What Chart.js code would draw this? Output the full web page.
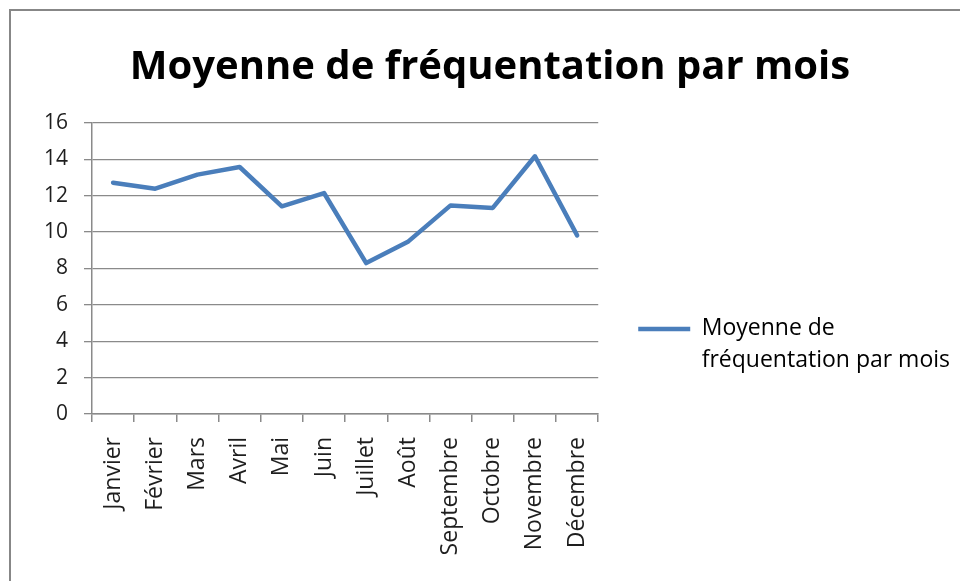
<!DOCTYPE html>
<html lang="fr">
<head>
<meta charset="utf-8">
<title>Moyenne de fréquentation par mois</title>
<script src="https://cdn.jsdelivr.net/npm/chart.js@4/dist/chart.umd.min.js"></script>
<style>
    html, body { margin: 0; padding: 0; background: #fff; }
    #frame {
        position: absolute;
        left: 9px;
        top: 9px;
        width: 1000px;
        height: 700px;
        border-top: 2px solid #878787;
        border-left: 2px solid #878787;
    }
    #wrap { position: absolute; left: 0; top: 0; width: 960px; height: 581px; }
</style>
</head>
<body>
<div id="frame"></div>
<div id="wrap"><canvas id="chart"></canvas></div>
<script>
// data
const months = ['Janvier', 'Février', 'Mars', 'Avril', 'Mai', 'Juin',
    'Juillet', 'Août', 'Septembre', 'Octobre', 'Novembre', 'Décembre'];
const frequentation = [12.72, 12.39, 13.16, 13.58, 11.42, 12.15, 8.30, 9.49, 11.47, 11.33, 14.17, 9.82];
const seriesName = 'Moyenne de fréquentation par mois';
const legendLines = ['Moyenne de', 'fréquentation par mois'];
const yTicks = [0, 2, 4, 6, 8, 10, 12, 14, 16];

const gridGray = '#8a8a8a';
const textColor = '#1e1e1e';
const uiFont = 'Open Sans';

// the legend sits a bit lower than the middle of the plot in the original
const legendNudge = {
    id: 'legendNudge',
    afterLayout(chart) {
        if (!chart.legend) return;
        chart.legend.top += 58;
        chart.legend.bottom += 58;
    }
};

new Chart(document.getElementById('chart'), {
    type: 'line',
    data: {
        labels: months,
        datasets: [{
            label: seriesName,
            data: frequentation,
            borderColor: '#4a7ebb',
            backgroundColor: '#4a7ebb',
            borderWidth: 4.5,
            tension: 0,
            pointRadius: 0,
            pointHoverRadius: 0,
            borderJoinStyle: 'round',
            borderCapStyle: 'round',
            fill: false
        }]
    },
    plugins: [legendNudge],
    options: {
        responsive: true,
        maintainAspectRatio: false,
        animation: false,
        layout: {
            padding: { left: 20, right: 0, top: 0, bottom: 0 }
        },
        plugins: {
            title: {
                display: true,
                text: seriesName,
                color: '#000',
                font: { family: uiFont, size: 40, weight: 'bold', lineHeight: 1.2 },
                padding: { top: 44, bottom: 31 }
            },
            legend: {
                display: true,
                position: 'right',
                align: 'center',
                maxWidth: 370,
                labels: {
                    usePointStyle: true,
                    pointStyle: 'line',
                    pointStyleWidth: 52,
                    padding: 40,
                    color: textColor,
                    font: { family: uiFont, size: 23, lineHeight: 1.35 },
                    generateLabels: (chart) => {
                        const ds = chart.data.datasets[0];
                        return [{
                            text: legendLines,
                            fillStyle: ds.borderColor,
                            strokeStyle: ds.borderColor,
                            lineWidth: ds.borderWidth,
                            pointStyle: 'line',
                            hidden: false,
                            datasetIndex: 0
                        }];
                    }
                }
            },
            tooltip: { enabled: false }
        },
        scales: {
            x: {
                offset: true,
                afterFit: (scale) => { scale.height = 167; },
                border: { display: true, color: gridGray, width: 1.5 },
                grid: {
                    offset: true,
                    drawOnChartArea: false,
                    drawTicks: true,
                    tickLength: 8,
                    color: gridGray,
                    lineWidth: 1.5
                },
                ticks: {
                    autoSkip: false,
                    minRotation: 90,
                    maxRotation: 90,
                    padding: 15,
                    color: textColor,
                    font: { family: uiFont, size: 23 }
                }
            },
            y: {
                min: 0,
                max: 16,
                afterFit: (scale) => { scale.width = 72; },
                afterBuildTicks: (scale) => {
                    scale.ticks = yTicks.map(v => ({ value: v }));
                },
                border: { display: true, color: gridGray, width: 1.5 },
                grid: {
                    drawOnChartArea: true,
                    drawTicks: true,
                    tickLength: 8,
                    color: gridGray,
                    lineWidth: 1.3
                },
                ticks: {
                    padding: 16,
                    color: textColor,
                    font: { family: uiFont, size: 21 }
                }
            }
        }
    }
});
</script>
</body>
</html>
